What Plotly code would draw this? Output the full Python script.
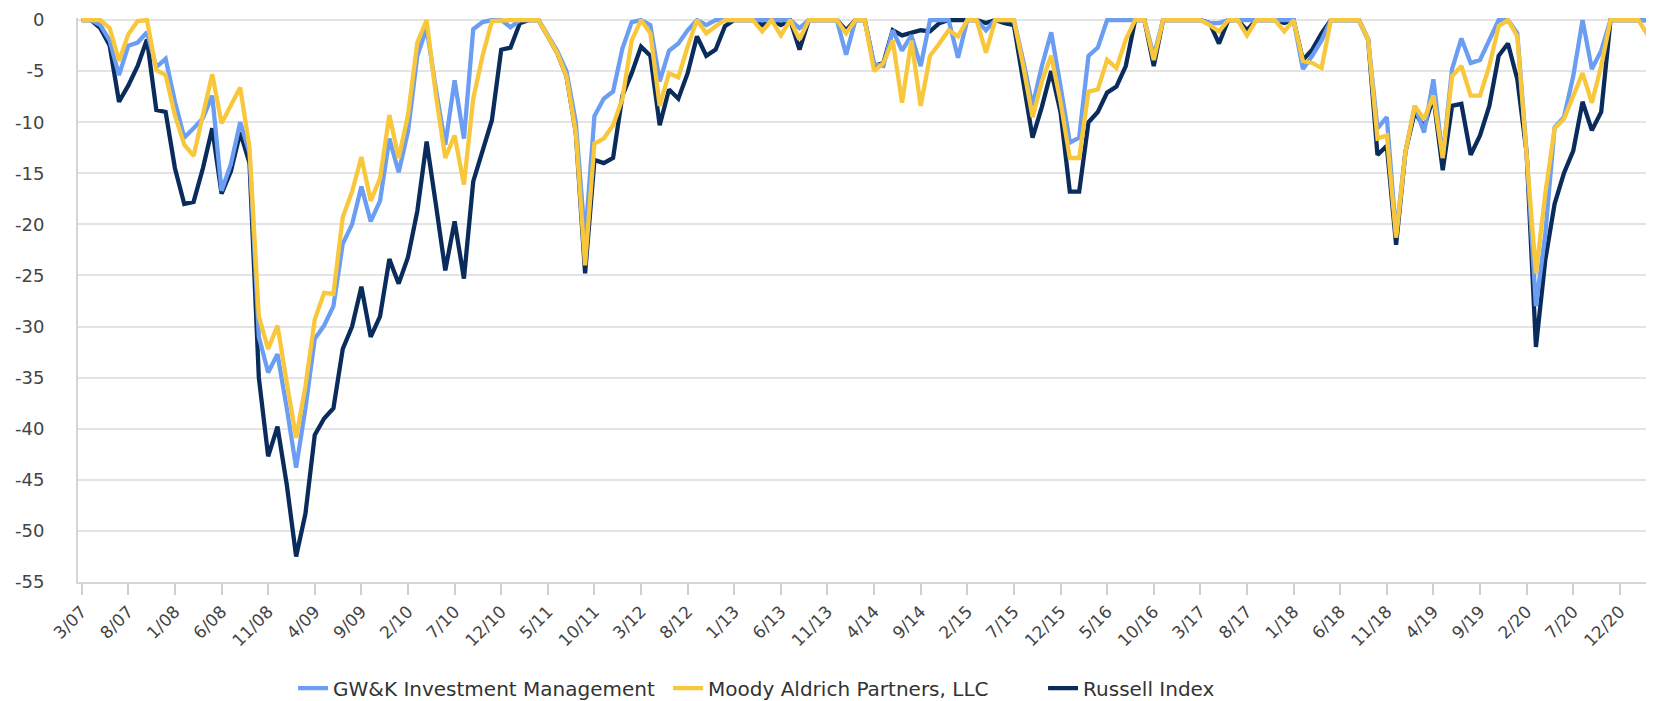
import plotly.graph_objects as go
import pandas as pd

# monthly periods 3/07 .. 3/21
months = [f"{p.month}/{p.year % 100:02d}" for p in pd.period_range("2007-03", "2021-03", freq="M")]

tick_labels = ["3/07", "8/07", "1/08", "6/08", "11/08", "4/09", "9/09", "2/10", "7/10", "12/10",
               "5/11", "10/11", "3/12", "8/12", "1/13", "6/13", "11/13", "4/14", "9/14", "2/15",
               "7/15", "12/15", "5/16", "10/16", "3/17", "8/17", "1/18", "6/18", "11/18", "4/19",
               "9/19", "2/20", "7/20", "12/20"]

y_ticks = [0, -5, -10, -15, -20, -25, -30, -35, -40, -45, -50, -55]

russell = [
    0, 0, -0.8, -2.5, -8.0, -6.4, -4.5, -1.9, -8.8, -9.0,
    -14.5, -18.0, -17.8, -14.5, -10.6, -17.0, -14.8, -11.0, -14.0, -35.0,
    -42.7, -39.8, -45.5, -52.5, -48.3, -40.6, -39.0, -38.0, -32.2, -30.0,
    -26.1, -31.0, -29.0, -23.4, -25.8, -23.2, -18.7, -11.9, -18.1, -24.5,
    -19.7, -25.3, -15.8, -12.9, -9.8, -2.9, -2.7, -0.3, 0, 0,
    -1.6, -3.2, -5.5, -11.0, -24.8, -13.7, -14.0, -13.5, -7.4, -5.2,
    -2.6, -3.5, -10.3, -6.8, -7.7, -5.2, -1.6, -3.5, -2.9, -0.6,
    0, 0, 0, -0.5, 0, -0.5, 0, -2.9, 0, 0,
    0, 0, -1.0, 0, 0, -4.5, -4.2, -1.0, -1.5, -1.2,
    -1.0, -1.1, -0.3, 0, 0, 0, 0, -0.3, 0, -0.3,
    -0.5, -6.0, -11.5, -8.5, -5.0, -9.0, -16.8, -16.8, -10.0, -9.0,
    -7.1, -6.5, -4.5, 0, 0, -4.5, 0, 0, 0, 0,
    0, -0.3, -2.3, 0, 0, -1.0, 0, 0, 0, -0.3,
    0, -3.9, -2.9, -1.3, 0, 0, 0, 0, -1.9, -13.2,
    -12.3, -22.0, -12.9, -9.0, -10.5, -7.5, -14.7, -8.4, -8.2, -13.2,
    -11.3, -8.4, -3.5, -2.3, -5.8, -13.0, -32.0, -23.5, -18.0, -15.0,
    -12.8, -8.0, -10.8, -9.0, 0, 0, 0, 0, 0,
]

gwk = [
    0, 0, -0.5, -2.0, -5.4, -2.5, -2.2, -1.2, -4.6, -3.8,
    -8.0, -11.5, -10.6, -9.6, -7.4, -16.7, -14.1, -10.0, -13.0, -31.0,
    -34.5, -32.7, -38.0, -43.8, -38.0, -31.2, -29.9, -28.0, -21.9, -20.0,
    -16.3, -19.7, -17.7, -11.6, -14.9, -10.9, -3.5, -0.8, -6.8, -12.2,
    -5.9, -11.6, -0.9, -0.2, 0, 0, -0.7, 0, 0, 0,
    -1.5, -3.0, -5.0, -10.0, -21.5, -9.4, -7.7, -7.0, -2.8, -0.2,
    0, -0.5, -6.0, -3.0, -2.3, -1.0, 0, -0.5, 0, 0,
    0, 0, 0, 0, 0, 0, 0, -0.8, 0, 0,
    0, 0, -3.4, 0, 0, -4.3, -4.5, -1.0, -3.0, -1.5,
    -4.5, 0, 0, 0, -3.7, 0, 0, -1.0, 0, 0,
    0, -4.0, -8.4, -4.5, -1.2, -6.5, -12.0, -11.5, -3.5, -2.7,
    0, 0, 0, 0, 0, -3.5, 0, 0, 0, 0,
    0, -0.3, -0.3, 0, 0, 0, 0, 0, 0, 0,
    0, -4.8, -3.5, -2.0, 0, 0, 0, 0, -1.9, -10.6,
    -9.5, -21.0, -12.9, -8.4, -11.0, -5.8, -13.5, -4.8, -1.8, -4.2,
    -3.9, -1.9, 0, 0, -1.3, -13.0, -28.0, -21.0, -10.5, -9.5,
    -5.5, 0, -4.8, -3.0, 0, 0, 0, 0, 0,
]

moody = [
    0, 0, 0, -0.8, -4.0, -1.4, -0.1, 0, -4.9, -5.4,
    -9.3, -12.2, -13.3, -9.3, -5.3, -10.1, -8.3, -6.6, -12.5, -29.0,
    -32.2, -29.9, -35.5, -40.9, -35.8, -29.3, -26.7, -26.8, -19.3, -16.8,
    -13.4, -17.7, -15.5, -9.3, -13.5, -9.3, -2.2, 0, -7.4, -13.5,
    -11.3, -16.1, -7.7, -3.5, -0.1, 0, 0, 0, 0, 0,
    -1.6, -3.2, -5.5, -11.0, -24.0, -12.1, -11.6, -10.3, -7.7, -2.0,
    0, -1.3, -8.4, -5.2, -5.6, -2.6, 0, -1.3, -0.6, 0,
    0, 0, 0, -1.1, 0, -1.5, 0, -1.9, 0, 0,
    0, 0, -1.3, 0, 0, -5.0, -4.2, -2.0, -8.1, -2.0,
    -8.4, -3.5, -2.3, -1.0, -1.6, 0, 0, -3.2, 0, 0,
    0, -4.5, -9.5, -6.0, -3.5, -8.0, -13.5, -13.5, -7.0, -6.8,
    -3.9, -4.7, -1.9, 0, 0, -3.9, 0, 0, 0, 0,
    0, -0.5, -1.1, 0, 0, -1.5, 0, 0, 0, -1.1,
    0, -4.0, -4.2, -4.7, 0, 0, 0, 0, -1.9, -11.6,
    -11.3, -21.3, -12.9, -8.4, -9.7, -7.4, -13.5, -5.5, -4.5, -7.4,
    -7.4, -4.5, -0.6, 0, -1.6, -13.0, -24.8, -17.0, -10.6, -9.7,
    -7.4, -5.2, -8.1, -4.5, 0, 0, 0, 0, -1.5,
]

names = ["GW&K Investment Management", "Moody Aldrich Partners, LLC", "Russell Index"]
colors = {"GW&K Investment Management": "#6B9EF3",
          "Moody Aldrich Partners, LLC": "#F8C73C",
          "Russell Index": "#0A2C5C"}
ranks = {names[0]: 1, names[1]: 2, names[2]: 3}

fig = go.Figure()
# draw order: Russell underneath, then GW&K, then Moody on top
for name, vals in [(names[2], russell), (names[0], gwk), (names[1], moody)]:
    fig.add_trace(go.Scatter(
        x=months, y=vals, mode="lines", name=name,
        line=dict(color=colors[name], width=4.3),
        legendrank=ranks[name],
    ))

font_family = "DejaVu Sans, Verdana, sans-serif"

# page body has an 8px margin, so the figure is sized/offset to compensate
fig.update_layout(
    width=1646, height=693,
    margin=dict(l=70, r=2, t=10, b=119, autoexpand=False),
    paper_bgcolor="white", plot_bgcolor="white",
    font=dict(family=font_family, size=17, color="#444444"),
    showlegend=True,
    legend=dict(orientation="h", x=0.494, xanchor="center", y=-0.188, yanchor="middle",
                font=dict(size=20, color="#333333"), traceorder="normal",
                entrywidth=330, itemwidth=30),
)

fig.update_xaxes(
    type="category",
    range=[-0.4, 168.45],
    tickmode="array", tickvals=tick_labels, ticktext=tick_labels,
    tickangle=-45,
    ticks="outside", ticklen=11, tickcolor="#cfcfcf", tickwidth=1.5,
    showline=True, linecolor="#d5d5d5", linewidth=2,
    showgrid=False, zeroline=False, automargin=False,
    ticklabeloverflow="allow",
    tickfont=dict(size=17, color="#444444"),
)

fig.update_yaxes(
    range=[-55, 0.2],
    tickmode="array", tickvals=y_ticks, ticktext=[str(v) for v in y_ticks],
    showgrid=True, gridcolor="#e4e4e4", gridwidth=2,
    showline=True, linecolor="#d5d5d5", linewidth=2,
    zeroline=False, ticks="", automargin=False,
    ticklabelstandoff=28, ticklabeloverflow="allow",
    tickfont=dict(size=18, color="#444444"),
)

fig.write_html("out.html")
